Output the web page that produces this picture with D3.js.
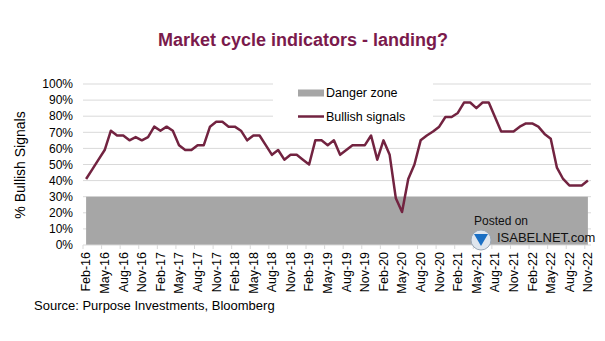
<!DOCTYPE html>
<html>
<head>
<meta charset="utf-8">
<script src="https://cdn.jsdelivr.net/npm/d3@7"></script>
<style>
  body { margin: 0; background: #fff; }
  svg { font-family: Arial, "Liberation Sans", sans-serif; }
</style>
</head>
<body>
<div class="chart"></div>
<script>
var months = ['Jan', 'Feb', 'Mar', 'Apr', 'May', 'Jun', 'Jul', 'Aug', 'Sep', 'Oct', 'Nov', 'Dec'];

// monthly, Feb-16 .. Nov-22
var bullish = [
  41, 47, 53, 59, 71, 68, 68, 65, 67, 65, 67,
  73.5, 71, 73.5, 71, 62, 59, 59, 62, 62, 73.5, 76.5, 76.5,
  73.5, 73.5, 71, 65, 68, 68, 62, 56, 59, 53, 56, 56,
  53, 50, 65, 65, 62, 65, 56, 59, 62, 62, 62, 68,
  53, 65, 56, 29, 20.5, 41, 50, 65, 68, 70.5, 73.5, 79.5,
  79.5, 82, 88.5, 88.5, 85, 88.5, 88.5, 79.5, 70.5, 70.5, 70.5, 73.5,
  75.5, 75.5, 73.5, 69, 66, 48, 41, 37, 37, 37, 40
];
var dangerLevel = 30;
var yTicks = [0, 10, 20, 30, 40, 50, 60, 70, 80, 90, 100];

var categories = bullish.map(function(v, i) {
  var m = 1 + i;
  var year = 16 + Math.floor(m / 12);
  return months[m % 12] + '-' + year;
});
var tickLabels = categories.filter(function(c, i) { return i % 3 === 0; });

var width = 605, height = 341;
var svg = d3.select('.chart').append('svg')
  .attr('width', width)
  .attr('height', height);

var x = d3.scalePoint()
  .domain(categories)
  .range([83, 591])
  .padding(0.5);
var step = x.step();

var y = d3.scaleLinear()
  .domain([0, 100])
  .range([245, 84]);

// gridlines
svg.append('g')
  .attr('class', 'grid')
  .selectAll('line')
  .data(yTicks.slice(1))
  .enter().append('line')
  .attr('x1', 83)
  .attr('x2', 591)
  .attr('y1', function(d) { return y(d); })
  .attr('y2', function(d) { return y(d); })
  .attr('stroke', '#d9d9d9')
  .attr('stroke-width', 1);

// danger zone
var area = d3.area()
  .x(function(d) { return x(d); })
  .y0(y(0))
  .y1(y(dangerLevel));
svg.append('path')
  .datum(categories)
  .attr('d', area)
  .attr('fill', '#a6a6a6');

// x axis
var xAxis = svg.append('g')
  .attr('transform', 'translate(0,' + y(0) + ')');
xAxis.append('line')
  .attr('x1', 83).attr('x2', 591)
  .attr('stroke', '#d9d9d9');
xAxis.selectAll('line.tick')
  .data(tickLabels)
  .enter().append('line')
  .attr('class', 'tick')
  .attr('x1', function(d) { return x(d) - step / 2; })
  .attr('x2', function(d) { return x(d) - step / 2; })
  .attr('y1', 0).attr('y2', 4)
  .attr('stroke', '#d9d9d9');
xAxis.selectAll('text')
  .data(tickLabels)
  .enter().append('text')
  .attr('transform', function(d) { return 'translate(' + x(d) + ',7) rotate(-90)'; })
  .attr('text-anchor', 'end')
  .attr('dy', '0.35em')
  .attr('font-size', '12.5px')
  .attr('fill', '#000')
  .text(function(d) { return d; });

// y axis labels
svg.append('g')
  .selectAll('text')
  .data(yTicks)
  .enter().append('text')
  .attr('x', 73)
  .attr('y', function(d) { return y(d); })
  .attr('dy', '0.35em')
  .attr('text-anchor', 'end')
  .attr('font-size', '12px')
  .attr('fill', '#000')
  .text(function(d) { return d + '%'; });

svg.append('text')
  .attr('transform', 'translate(20,165) rotate(-90)')
  .attr('text-anchor', 'middle')
  .attr('dy', '0.35em')
  .attr('font-size', '14px')
  .text('% Bullish Signals');

// legend box
var legend = svg.append('g');
legend.append('rect')
  .attr('x', 273).attr('y', 78)
  .attr('width', 160).attr('height', 48)
  .attr('fill', '#fff');
legend.append('rect')
  .attr('x', 298).attr('y', 89.5)
  .attr('width', 26).attr('height', 7)
  .attr('fill', '#a6a6a6');
legend.append('text')
  .attr('x', 326).attr('y', 93)
  .attr('dy', '0.35em')
  .attr('font-size', '12.5px')
  .text('Danger zone');
legend.append('line')
  .attr('x1', 298).attr('x2', 324)
  .attr('y1', 116.5).attr('y2', 116.5)
  .attr('stroke', '#722340')
  .attr('stroke-width', 2.5);
legend.append('text')
  .attr('x', 326).attr('y', 116.5)
  .attr('dy', '0.35em')
  .attr('font-size', '12.5px')
  .text('Bullish signals');

// bullish line
var line = d3.line()
  .x(function(d, i) { return x(categories[i]); })
  .y(function(d) { return y(d); });
svg.append('path')
  .datum(bullish)
  .attr('d', line)
  .attr('fill', 'none')
  .attr('stroke', '#722340')
  .attr('stroke-width', 2.5)
  .attr('stroke-linejoin', 'round');

// watermark
var wm = svg.append('g');
wm.append('text')
  .attr('x', 474).attr('y', 221)
  .attr('dy', '0.35em')
  .attr('font-size', '12px')
  .attr('fill', '#111')
  .text('Posted on');
wm.append('circle')
  .attr('cx', 481).attr('cy', 240).attr('r', 10)
  .attr('fill', '#dfe6ee')
  .attr('stroke', '#9aa7b5');
wm.append('path')
  .attr('d', 'M474,234 L488,234 L481,246 Z')
  .attr('fill', '#1a6fc4');
wm.append('text')
  .attr('x', 497).attr('y', 237)
  .attr('dy', '0.35em')
  .attr('font-size', '13px')
  .attr('fill', '#111')
  .text('ISABELNET.com');

// title and source
svg.append('text')
  .attr('x', 303).attr('y', 40)
  .attr('dy', '0.35em')
  .attr('text-anchor', 'middle')
  .attr('font-size', '18px')
  .attr('font-weight', 'bold')
  .attr('fill', '#7a1a4c')
  .text('Market cycle indicators - landing?');

svg.append('text')
  .attr('x', 34).attr('y', 305)
  .attr('dy', '0.35em')
  .attr('font-size', '13px')
  .text('Source: Purpose Investments, Bloomberg');
</script>
</body>
</html>
